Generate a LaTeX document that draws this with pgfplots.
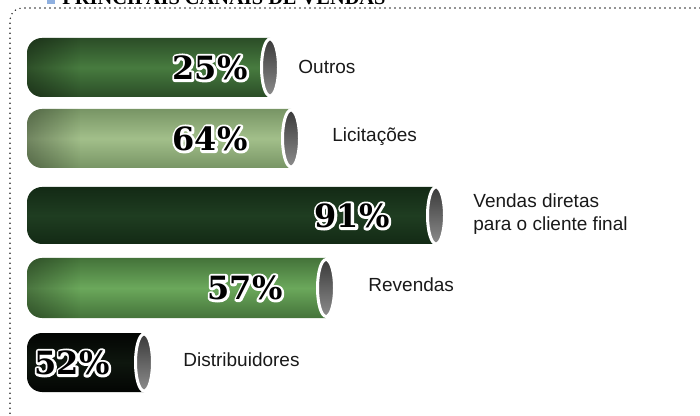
\documentclass[border=0pt]{standalone}
\usepackage{fontspec}
\setmainfont{Liberation Sans}
\newfontfamily\titlefont{Liberation Serif}
\newfontfamily\pctfont{DejaVu Serif}
\usepackage{pgfplots}
\pgfplotsset{compat=1.18}
\usetikzlibrary{shapes.geometric,fadings}
\newcommand\halo[1]{\special{pdf:literal direct 1 1 1 RG 2.4 w 1 j 1 Tr}#1\special{pdf:literal direct 0 Tr}}
\definecolor{oE}{HTML}{2B4D27}\definecolor{oM}{HTML}{477B3F}
\definecolor{lE}{HTML}{789565}\definecolor{lM}{HTML}{A2BF8A}
\definecolor{vE}{HTML}{132A15}\definecolor{vM}{HTML}{1F3D21}
\definecolor{rE}{HTML}{44733A}\definecolor{rM}{HTML}{6BA85B}
\definecolor{dE}{HTML}{030503}\definecolor{dM}{HTML}{0E160E}
\definecolor{capT}{HTML}{3A3A3A}\definecolor{capB}{HTML}{8C8C8C}
\definecolor{titleblue}{HTML}{8FB0E0}
\begin{document}
\begin{tikzpicture}
\begin{axis}[width=350pt,height=208pt,scale only axis,hide axis,clip=false,
  xmin=0,xmax=700,ymin=0,ymax=416,y dir=reverse]
\coordinate (bbA) at (axis cs:0,0);
\coordinate (bbB) at (axis cs:700,416);
% frame
\draw[black!85, line width=0.8pt, line cap=round, dash pattern=on 0pt off 2.5pt, rounded corners=6pt]
  (axis cs:715,8) -- (axis cs:10,8) -- (axis cs:10,430);
% title (cut off at top, as in the source)
\fill[titleblue] (axis cs:47,-6) rectangle (axis cs:55,4);
\node[anchor=base west, inner sep=0, font=\titlefont\bfseries\fontsize{10.2}{12}\selectfont]
  at (axis cs:62,4.5) {PRINCIPAIS CANAIS DE VENDAS};
% bars
\addplot[draw=none, rounded corners=7.5pt, top color=oE, bottom color=oE, middle color=oM]
  coordinates {(270,38) (27,38) (27,97) (270,97)};
\addplot[draw=none, rounded corners=7.5pt, top color=lE, bottom color=lE, middle color=lM]
  coordinates {(291,109) (27,109) (27,168) (291,168)};
\addplot[draw=none, rounded corners=7.5pt, top color=vE, bottom color=vE, middle color=vM]
  coordinates {(436,187) (27,187) (27,244) (436,244)};
\addplot[draw=none, rounded corners=7.5pt, top color=rE, bottom color=rE, middle color=rM]
  coordinates {(326,258) (27,258) (27,318) (326,318)};
\addplot[draw=none, rounded corners=7.5pt, top color=dE, bottom color=dE, middle color=dM]
  coordinates {(144,333) (27,333) (27,392) (144,392)};
% left shadow
\addplot[draw=none, rounded corners=7.5pt, fill=black, fill opacity=0.35, path fading=east]
  coordinates {(80,38) (27,38) (27,97) (80,97)};
\addplot[draw=none, rounded corners=7.5pt, fill=black, fill opacity=0.3, path fading=east]
  coordinates {(80,109) (27,109) (27,168) (80,168)};
\addplot[draw=none, rounded corners=7.5pt, fill=black, fill opacity=0.3, path fading=east]
  coordinates {(80,258) (27,258) (27,318) (80,318)};
% caps
\addplot[draw=none, nodes near coords={},
  nodes near coords style={anchor=center, ellipse, inner sep=0, minimum width=8.5pt,
    minimum height=28.5pt, draw=white, line width=1.5pt, top color=capT, bottom color=capB}]
  coordinates {(270,67.5) (291,138.5) (436,215.5) (326,288) (144,362.5)};
% percentages: white outline layer
\addplot[draw=none, point meta=explicit symbolic,
  nodes near coords={\halo{\pgfplotspointmeta}},
  nodes near coords style={anchor=east, inner sep=0, text=white,
    font=\pctfont\bfseries\fontsize{16}{16}\selectfont}]
  coordinates {(248,68) [25\%] (248,139) [64\%] (390,216) [91\%] (283,288) [57\%] (110,363) [52\%]};
% percentages: black fill layer
\addplot[draw=none, point meta=explicit symbolic,
  nodes near coords,
  nodes near coords style={anchor=east, inner sep=0, text=black,
    font=\pctfont\bfseries\fontsize{16}{16}\selectfont}]
  coordinates {(248,68) [25\%] (248,139) [64\%] (390,216) [91\%] (283,288) [57\%] (110,363) [52\%]};
% category labels
\addplot[draw=none, point meta=explicit symbolic, nodes near coords,
  nodes near coords style={anchor=west, inner sep=0, align=left, text=black!90,
    font=\fontsize{9.5}{11.5}\selectfont}]
  coordinates {(298,67) [Outros] (332,137) [Licitações] (473,214) [{Vendas diretas\\para o cliente final}] (368,285) [Revendas] (183,360) [Distribuidores]};
\end{axis}
\pgfresetboundingbox
\useasboundingbox (bbA) rectangle (bbB);
\end{tikzpicture}
\end{document}
